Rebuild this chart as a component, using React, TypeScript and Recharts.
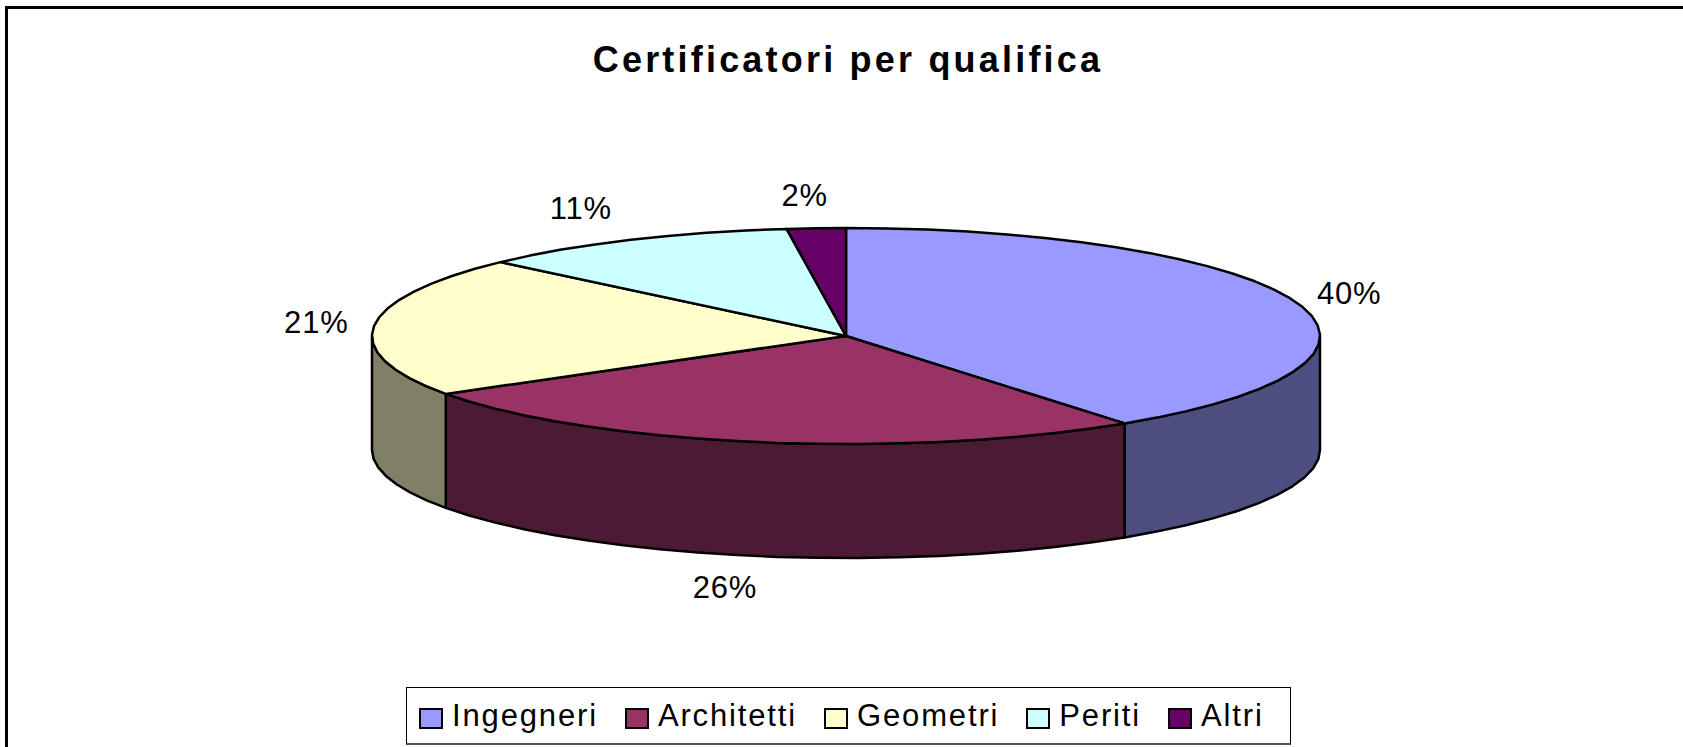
import { PieChart, Pie, Legend } from "recharts";

const CATEGORIES = ["Ingegneri", "Architetti", "Geometri", "Periti", "Altri"];
const VALUES = [40, 26, 21, 11, 2];
const TOP_COLORS = ["#9999FF", "#993366", "#FFFFCC", "#CCFFFF", "#660066"];
const WALL_COLORS = ["#4D4D80", "#4D1A33", "#808066", "#668080", "#330033"];

const rows = CATEGORIES.map((name, i) => ({
  name,
  value: VALUES[i],
  fill: TOP_COLORS[i],
}));

const WIDTH = 1683;
const HEIGHT = 747;
const CX = 846;
const CY = 336;
const RADIUS = 474;
const SQUASH = 108 / 474;
const DEPTH = 114;
const ARC_STEP = 5;

// Excel nudges labels around the pie, these follow the original placement
const LABEL_NUDGE_X = [0, -22, -3, -25, -8];
const LABEL_NUDGE_Y = [0, 1, 0, -4, -2];

const font = "'Liberation Sans', Arial, sans-serif";

function ellipsePoint(cx: number, cy: number, r: number, deg: number) {
  const a = (deg * Math.PI) / 180;
  return [cx + r * Math.cos(a), cy - r * SQUASH * Math.sin(a)];
}

// faceted on purpose, the original edge is a coarse polygon
function arcPoints(cx: number, cy: number, r: number, from: number, to: number) {
  const pts: number[][] = [];
  const n = Math.max(1, Math.ceil(Math.abs(to - from) / ARC_STEP));
  for (let i = 0; i <= n; i++) {
    pts.push(ellipsePoint(cx, cy, r, from + ((to - from) * i) / n));
  }
  return pts;
}

function toPath(pts: number[][]) {
  return "M" + pts.map((p) => `${p[0].toFixed(1)},${p[1].toFixed(1)}`).join("L") + "Z";
}

function TopSlice(props: any) {
  const { cx, cy, outerRadius, startAngle, endAngle, fill } = props;
  const pts = [[cx, cy], ...arcPoints(cx, cy, outerRadius, startAngle, endAngle)];
  return <path d={toPath(pts)} fill={fill} stroke="#000" strokeWidth={2.5} strokeLinejoin="round" />;
}

function WallSlice(props: any) {
  const { cx, cy, outerRadius, startAngle, endAngle, name } = props;
  // only the front half of the rim is visible, angles run 0 to -180 there
  const from = Math.min(startAngle, 0);
  const to = Math.max(endAngle, -180);
  if (from <= to) return <g />;
  const upper = arcPoints(cx, cy, outerRadius, from, to);
  const lower = arcPoints(cx, cy + DEPTH, outerRadius, to, from);
  return (
    <path
      d={toPath([...upper, ...lower])}
      fill={WALL_COLORS[CATEGORIES.indexOf(name)]}
      stroke="#000"
      strokeWidth={2.5}
      strokeLinejoin="round"
    />
  );
}

function renderLabel(props: any) {
  const { cx, cy, midAngle, percent, index } = props;
  const a = (midAngle * Math.PI) / 180;
  const x = cx + 529 * Math.cos(a) + LABEL_NUDGE_X[index];
  let y = cy - 139 * Math.sin(a) + LABEL_NUDGE_Y[index];
  if (Math.sin(a) < -0.5) y += DEPTH;
  return (
    <text
      x={x}
      y={y}
      textAnchor="middle"
      dominantBaseline="central"
      fontFamily={font}
      fontSize={31}
      letterSpacing={0.8}
      fill="#000"
    >
      {`${Math.round(percent * 100)}%`}
    </text>
  );
}

function LegendBox({ payload }: any) {
  // both pies report their items, keep one of each in data order
  const items = CATEGORIES.map((name) => (payload || []).find((p: any) => p.value === name)).filter(Boolean);
  return (
    <div
      style={{
        boxSizing: "border-box",
        width: 885,
        height: 58,
        border: "1px solid #000",
        borderBottom: "2px solid #555",
        background: "#fff",
        display: "flex",
        alignItems: "center",
        gap: 27,
        paddingLeft: 12,
        fontFamily: font,
        fontSize: 31,
        letterSpacing: 1.85,
        color: "#000",
      }}
    >
      {items.map((item: any) => (
        <div key={item.value} style={{ display: "flex", alignItems: "center" }}>
          <span
            style={{
              boxSizing: "border-box",
              width: 24,
              height: 21,
              marginRight: 9,
              marginTop: 6,
              border: "2px solid #000",
              background: item.color,
            }}
          />
          <span>{item.value}</span>
        </div>
      ))}
    </div>
  );
}

export default function App() {
  return (
    <div
      style={{
        position: "absolute",
        left: 0,
        top: 0,
        width: WIDTH,
        height: HEIGHT,
        overflow: "hidden",
        background: "#fff",
      }}
    >
      <div style={{ position: "absolute", left: 5, top: 6, width: WIDTH, height: 3, background: "#000" }} />
      <div style={{ position: "absolute", left: 5, top: 6, width: 3, height: HEIGHT, background: "#000" }} />
      <div
        style={{
          position: "absolute",
          left: 0,
          top: 38,
          width: 1696,
          textAlign: "center",
          fontFamily: font,
          fontWeight: "bold",
          fontSize: 36,
          lineHeight: "44px",
          letterSpacing: 3.2,
          color: "#000",
        }}
      >
        Certificatori per qualifica
      </div>
      <PieChart
        width={WIDTH}
        height={HEIGHT}
        margin={{ top: 0, right: 0, bottom: 0, left: 0 }}
        style={{ position: "absolute", left: 0, top: 0 }}
      >
        <Pie
          data={rows}
          dataKey="value"
          nameKey="name"
          cx={CX}
          cy={CY}
          outerRadius={RADIUS}
          startAngle={90}
          endAngle={-270}
          shape={WallSlice}
          legendType="none"
          isAnimationActive={false}
        />
        <Pie
          data={rows}
          dataKey="value"
          nameKey="name"
          cx={CX}
          cy={CY}
          outerRadius={RADIUS}
          startAngle={90}
          endAngle={-270}
          shape={TopSlice}
          label={renderLabel}
          labelLine={false}
          isAnimationActive={false}
        />
        <Legend
          content={LegendBox}
          wrapperStyle={{ position: "absolute", left: 406, top: 687, width: 885, height: 58, bottom: "auto" }}
        />
      </PieChart>
    </div>
  );
}
